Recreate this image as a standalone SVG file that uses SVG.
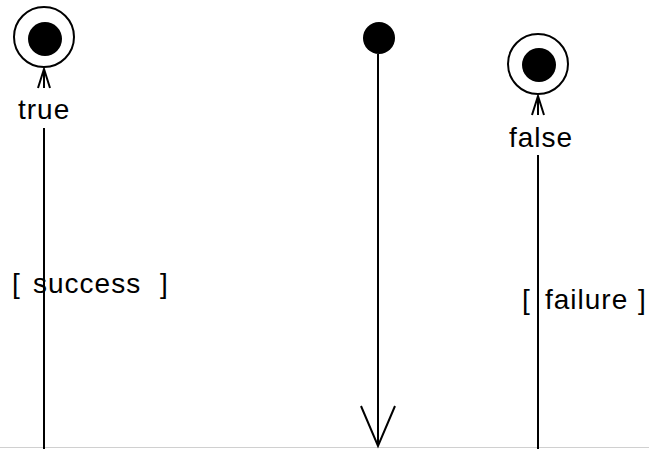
<svg xmlns="http://www.w3.org/2000/svg" width="649" height="449" viewBox="0 0 649 449">
<style>
.ln{stroke:#000;stroke-width:2;fill:none}
.ring{stroke:#000;stroke-width:2;fill:#fff}
.dot{fill:#000}
.lbl{font-family:"Liberation Sans",Arial,sans-serif;font-size:28px;fill:#000;letter-spacing:1px}
</style>
<rect width="649" height="449" fill="#fff"/>
<line x1="0" y1="447.5" x2="649" y2="447.5" stroke="#d0d0d0" stroke-width="1"/>
<g id="final-true">
<circle class="ring" cx="44" cy="37" r="30"/>
<circle class="dot" cx="45" cy="39" r="17"/>
</g>
<g id="initial">
<circle class="dot" cx="379" cy="38" r="16"/>
</g>
<g id="final-false">
<circle class="ring" cx="538" cy="64" r="30"/>
<circle class="dot" cx="539" cy="65" r="17"/>
</g>
<g id="connectors">
<g id="c-true">
<path class="ln" d="M44,449 V128 M44,88 V69 M38,88 L44,69 L50,88"/>
<text class="lbl" x="18" y="119">true</text>
<text class="lbl" y="293"><tspan x="12">[</tspan><tspan x="33">success</tspan><tspan x="160">]</tspan></text>
</g>
<g id="c-init">
<path class="ln" d="M378,54 V446 M361,406 L378,446 L395,406"/>
</g>
<g id="c-false">
<path class="ln" d="M538,449 V155 M538,115 V96 M532,115 L538,96 L544,115"/>
<text class="lbl" x="509" y="147">false</text>
<text class="lbl" y="309"><tspan x="522">[</tspan><tspan x="545">failure</tspan><tspan x="638">]</tspan></text>
</g>
</g>
</svg>
